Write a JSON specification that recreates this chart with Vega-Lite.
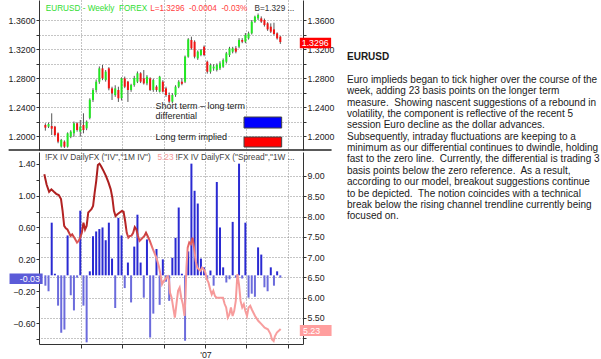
{
"$schema": "https://vega.github.io/schema/vega-lite/v6.json",
"background": "white",
"padding": {"left": 7, "top": 0, "right": 0, "bottom": 0},
"spacing": 13,
"config": {
  "view": {"stroke": null},
  "font": "Liberation Sans",
  "axis": {"labelFont": "Liberation Sans", "labelFontSize": 8.8, "labelColor": "#222", "tickColor": "#333", "domainColor": "#333", "tickSize": 3, "labelPadding": 1, "gridColor": "#8a8a8a", "gridDash": [1, 2], "gridWidth": 1, "labelOverlap": false, "labelBound": false, "labelFlush": false}
},
"datasets": {
  "candles": [
    {"day":3,"o":1.2152,"h":1.2175,"l":1.2074,"c":1.2115},
    {"day":10,"o":1.2129,"h":1.2185,"l":1.2110,"c":1.2165},
    {"day":17,"o":1.2138,"h":1.2313,"l":1.2014,"c":1.2101},
    {"day":24,"o":1.2129,"h":1.2140,"l":1.2000,"c":1.2014},
    {"day":31,"o":1.2037,"h":1.2050,"l":1.1900,"c":1.1922},
    {"day":38,"o":1.1855,"h":1.1960,"l":1.1840,"c":1.1945},
    {"day":45,"o":1.1922,"h":1.1940,"l":1.1835,"c":1.1853},
    {"day":52,"o":1.1853,"h":1.2050,"l":1.1840,"c":1.2037},
    {"day":59,"o":1.1990,"h":1.2080,"l":1.1970,"c":1.2060},
    {"day":66,"o":1.2037,"h":1.2200,"l":1.1990,"c":1.2175},
    {"day":73,"o":1.2175,"h":1.2190,"l":1.2060,"c":1.2083},
    {"day":80,"o":1.2060,"h":1.2221,"l":1.1991,"c":1.2129},
    {"day":87,"o":1.2152,"h":1.2313,"l":1.2037,"c":1.2083},
    {"day":94,"o":1.2106,"h":1.2215,"l":1.2080,"c":1.2198},
    {"day":101,"o":1.2250,"h":1.2520,"l":1.2230,"c":1.2500},
    {"day":108,"o":1.2497,"h":1.2660,"l":1.2470,"c":1.2635},
    {"day":115,"o":1.2635,"h":1.2780,"l":1.2600,"c":1.2749},
    {"day":122,"o":1.2749,"h":1.2960,"l":1.2720,"c":1.2933},
    {"day":129,"o":1.2933,"h":1.2980,"l":1.2770,"c":1.2795},
    {"day":136,"o":1.2772,"h":1.2910,"l":1.2750,"c":1.2887},
    {"day":143,"o":1.2933,"h":1.2950,"l":1.2630,"c":1.2657},
    {"day":150,"o":1.2657,"h":1.2680,"l":1.2497,"c":1.2588},
    {"day":157,"o":1.2565,"h":1.2700,"l":1.2540,"c":1.2657},
    {"day":164,"o":1.2635,"h":1.2680,"l":1.2470,"c":1.2520},
    {"day":171,"o":1.2520,"h":1.2810,"l":1.2490,"c":1.2795},
    {"day":178,"o":1.2795,"h":1.2820,"l":1.2660,"c":1.2680},
    {"day":185,"o":1.2750,"h":1.2760,"l":1.2470,"c":1.2635},
    {"day":192,"o":1.2635,"h":1.2720,"l":1.2610,"c":1.2703},
    {"day":199,"o":1.2703,"h":1.2830,"l":1.2680,"c":1.2800},
    {"day":206,"o":1.2750,"h":1.2890,"l":1.2730,"c":1.2865},
    {"day":213,"o":1.2865,"h":1.2880,"l":1.2730,"c":1.2750},
    {"day":220,"o":1.2795,"h":1.2910,"l":1.2710,"c":1.2726},
    {"day":227,"o":1.2726,"h":1.2840,"l":1.2700,"c":1.2818},
    {"day":234,"o":1.2795,"h":1.2810,"l":1.2620,"c":1.2635},
    {"day":241,"o":1.2635,"h":1.2790,"l":1.2610,"c":1.2772},
    {"day":248,"o":1.2680,"h":1.2700,"l":1.2610,"c":1.2635},
    {"day":255,"o":1.2612,"h":1.2830,"l":1.2600,"c":1.2818},
    {"day":262,"o":1.2749,"h":1.2770,"l":1.2600,"c":1.2612},
    {"day":269,"o":1.2657,"h":1.2680,"l":1.2540,"c":1.2566},
    {"day":276,"o":1.2566,"h":1.2600,"l":1.2450,"c":1.2474},
    {"day":283,"o":1.2474,"h":1.2590,"l":1.2450,"c":1.2566},
    {"day":290,"o":1.2566,"h":1.2700,"l":1.2540,"c":1.2680},
    {"day":297,"o":1.2680,"h":1.2770,"l":1.2660,"c":1.2749},
    {"day":304,"o":1.2749,"h":1.2800,"l":1.2700,"c":1.2720},
    {"day":311,"o":1.2749,"h":1.3110,"l":1.2730,"c":1.3094},
    {"day":318,"o":1.3094,"h":1.3350,"l":1.3080,"c":1.3333},
    {"day":325,"o":1.3324,"h":1.3370,"l":1.3190,"c":1.3209},
    {"day":332,"o":1.3300,"h":1.3320,"l":1.3070,"c":1.3094},
    {"day":339,"o":1.3071,"h":1.3180,"l":1.3050,"c":1.3163},
    {"day":346,"o":1.3117,"h":1.3200,"l":1.3100,"c":1.3186},
    {"day":353,"o":1.3232,"h":1.3250,"l":1.3100,"c":1.3117},
    {"day":360,"o":1.3025,"h":1.3040,"l":1.2860,"c":1.2887},
    {"day":367,"o":1.2887,"h":1.3000,"l":1.2860,"c":1.2979},
    {"day":374,"o":1.2933,"h":1.2990,"l":1.2900,"c":1.2956},
    {"day":381,"o":1.2910,"h":1.3000,"l":1.2890,"c":1.2979},
    {"day":388,"o":1.2933,"h":1.3030,"l":1.2910,"c":1.3002},
    {"day":395,"o":1.2956,"h":1.3070,"l":1.2940,"c":1.3048},
    {"day":402,"o":1.3025,"h":1.3160,"l":1.3000,"c":1.3140},
    {"day":409,"o":1.3117,"h":1.3230,"l":1.3090,"c":1.3209},
    {"day":416,"o":1.3163,"h":1.3230,"l":1.3140,"c":1.3209},
    {"day":423,"o":1.3209,"h":1.3240,"l":1.3140,"c":1.3163},
    {"day":430,"o":1.3232,"h":1.3350,"l":1.3210,"c":1.3324},
    {"day":437,"o":1.3324,"h":1.3350,"l":1.3280,"c":1.3301},
    {"day":444,"o":1.3301,"h":1.3420,"l":1.3280,"c":1.3393},
    {"day":451,"o":1.3347,"h":1.3440,"l":1.3330,"c":1.3416},
    {"day":458,"o":1.3416,"h":1.3600,"l":1.3400,"c":1.3577},
    {"day":465,"o":1.3577,"h":1.3660,"l":1.3560,"c":1.3646},
    {"day":472,"o":1.3623,"h":1.3690,"l":1.3600,"c":1.3669},
    {"day":479,"o":1.3623,"h":1.3650,"l":1.3560,"c":1.3577},
    {"day":486,"o":1.3600,"h":1.3620,"l":1.3510,"c":1.3531},
    {"day":493,"o":1.3554,"h":1.3570,"l":1.3450,"c":1.3471},
    {"day":500,"o":1.3508,"h":1.3554,"l":1.3420,"c":1.3439},
    {"day":507,"o":1.3471,"h":1.3563,"l":1.3390,"c":1.3407},
    {"day":514,"o":1.3416,"h":1.3430,"l":1.3330,"c":1.3347},
    {"day":521,"o":1.3370,"h":1.3380,"l":1.3270,"c":1.3296}
  ],
  "diff": [
    {"day":3,"v":-0.13},{"day":10,"v":-0.20},{"day":17,"v":0.66},{"day":24,"v":0.02},{"day":31,"v":-0.38},
    {"day":38,"v":-0.72},{"day":45,"v":-0.68},{"day":52,"v":0.50},{"day":59,"v":-0.25},{"day":66,"v":-0.44},
    {"day":73,"v":-0.03},{"day":80,"v":0.81},{"day":87,"v":-0.38},{"day":94,"v":-0.84},{"day":101,"v":0.05},
    {"day":108,"v":0.49},{"day":115,"v":0.55},{"day":122,"v":0.58},{"day":129,"v":0.60},{"day":136,"v":0.44},
    {"day":143,"v":0.66},{"day":150,"v":0.21},{"day":157,"v":-0.41},{"day":164,"v":0.72},{"day":171,"v":0.50},
    {"day":178,"v":-0.16},{"day":185,"v":0.16},{"day":192,"v":-0.34},{"day":199,"v":0.36},{"day":206,"v":0.76},
    {"day":213,"v":0.16},{"day":220,"v":-0.28},{"day":227,"v":0.45},{"day":234,"v":-0.78},{"day":241,"v":-0.48},
    {"day":248,"v":0.33},{"day":255,"v":-0.37},{"day":262,"v":0.20},{"day":269,"v":-0.08},{"day":276,"v":-0.32},
    {"day":283,"v":0.22},{"day":290,"v":0.47},{"day":297,"v":0.85},{"day":304,"v":0.02},{"day":311,"v":-0.82},
    {"day":318,"v":0.30},{"day":325,"v":1.40},{"day":332,"v":1.06},{"day":339,"v":0.90},{"day":346,"v":0.21},
    {"day":353,"v":0.10},{"day":360,"v":-0.05},{"day":367,"v":0.06},{"day":374,"v":-0.13},{"day":381,"v":1.17},
    {"day":388,"v":0.60},{"day":395,"v":0.10},{"day":402,"v":-0.09},{"day":409,"v":-0.05},{"day":416,"v":0.67},
    {"day":423,"v":-0.03},{"day":430,"v":1.40},{"day":437,"v":-0.04},{"day":444,"v":0.66},{"day":451,"v":-0.28},
    {"day":458,"v":-0.23},{"day":465,"v":-0.27},{"day":472,"v":0.35},{"day":479,"v":0.26},{"day":486,"v":-0.15},
    {"day":493,"v":-0.20},{"day":500,"v":0.10},{"day":507,"v":-0.13},{"day":514,"v":0.05},{"day":521,"v":-0.03}
  ],
  "vol": [
    {"day":0.7,"v":9.04},{"day":5.7,"v":8.79},{"day":11.3,"v":8.61},{"day":16.3,"v":8.67},{"day":21.9,"v":8.61},
    {"day":26.9,"v":8.56},{"day":32.5,"v":8.53},{"day":37.5,"v":8.43},{"day":41,"v":8.14},{"day":44.5,"v":7.77},
    {"day":48.1,"v":7.71},{"day":51.6,"v":7.68},{"day":55.2,"v":7.60},{"day":58.7,"v":7.52},{"day":62.2,"v":7.56},
    {"day":67.9,"v":7.46},{"day":72.8,"v":7.36},{"day":76.4,"v":7.40},{"day":79.9,"v":7.48},{"day":83.4,"v":7.60},
    {"day":87,"v":7.85},{"day":90.5,"v":7.68},{"day":94,"v":7.77},{"day":97.6,"v":8.10},{"day":101.1,"v":8.14},
    {"day":104.6,"v":8.18},{"day":108.2,"v":8.26},{"day":111.7,"v":8.59},{"day":115.2,"v":8.88},{"day":118.8,"v":9.27},
    {"day":122.3,"v":9.30},{"day":125.9,"v":9.24},{"day":131.5,"v":9.12},{"day":136.5,"v":9.00},{"day":142.1,"v":8.84},
    {"day":147.1,"v":8.67},{"day":150.6,"v":8.47},{"day":154.2,"v":8.14},{"day":157.7,"v":8.01},{"day":161.2,"v":8.05},
    {"day":166.9,"v":8.10},{"day":171.8,"v":8.14},{"day":175.4,"v":8.12},{"day":178.9,"v":7.89},{"day":182.4,"v":7.60},
    {"day":186,"v":7.48},{"day":189.5,"v":7.52},{"day":193,"v":7.53},{"day":196.6,"v":7.60},{"day":200.1,"v":7.74},
    {"day":203.6,"v":7.68},{"day":207.2,"v":7.52},{"day":210.7,"v":7.40},{"day":214.3,"v":7.44},{"day":217.8,"v":7.48},
    {"day":221.3,"v":7.52},{"day":224.9,"v":7.60},{"day":228.4,"v":7.52},{"day":233.3,"v":7.40},{"day":239,"v":7.23},
    {"day":244.7,"v":7.07},{"day":248.2,"v":6.97},{"day":253.1,"v":6.78},{"day":256.7,"v":6.58},{"day":260.2,"v":6.33},
    {"day":263.7,"v":6.41},{"day":267.3,"v":6.45},{"day":270.8,"v":6.51},{"day":272.9,"v":6.53},{"day":275.8,"v":6.41},
    {"day":277.9,"v":6.12},{"day":281.4,"v":6.00},{"day":285,"v":5.75},{"day":288.5,"v":5.51},{"day":292,"v":5.84},
    {"day":295.6,"v":6.17},{"day":299.1,"v":6.25},{"day":302.6,"v":6.00},{"day":306.2,"v":5.84},{"day":309.7,"v":5.55},
    {"day":311.8,"v":6.00},{"day":314,"v":6.74},{"day":316.8,"v":7.23},{"day":320.3,"v":7.36},{"day":323.9,"v":7.32},
    {"day":327.4,"v":7.48},{"day":330.9,"v":7.23},{"day":334.5,"v":6.90},{"day":338,"v":6.74},{"day":341.5,"v":6.70},
    {"day":345.1,"v":6.66},{"day":348.6,"v":6.74},{"day":352.1,"v":6.70},{"day":355.7,"v":6.62},{"day":359.2,"v":6.45},
    {"day":362.7,"v":6.37},{"day":366.3,"v":6.21},{"day":369.8,"v":6.08},{"day":373.3,"v":6.17},{"day":376.9,"v":6.04},
    {"day":380.4,"v":6.00},{"day":387.5,"v":6.00},{"day":394.6,"v":6.00},{"day":398.1,"v":5.85},{"day":401.6,"v":5.76},
    {"day":405.2,"v":5.51},{"day":408.7,"v":5.59},{"day":412.2,"v":5.76},{"day":415.8,"v":5.55},{"day":419.3,"v":5.67},
    {"day":422.8,"v":5.92},{"day":426.4,"v":6.58},{"day":429.9,"v":6.33},{"day":433.4,"v":5.92},{"day":437,"v":5.76},
    {"day":440.5,"v":5.84},{"day":444,"v":5.67},{"day":447.6,"v":5.55},{"day":451.1,"v":5.76},{"day":454.7,"v":5.80},
    {"day":458.2,"v":5.71},{"day":465.3,"v":5.55},{"day":472.3,"v":5.43},{"day":479.4,"v":5.35},{"day":486.5,"v":5.26},
    {"day":493.6,"v":5.22},{"day":499.2,"v":5.11},{"day":502.7,"v":4.97},{"day":506.3,"v":4.93},{"day":509.1,"v":5.05},
    {"day":513.4,"v":5.14},{"day":518.3,"v":5.19},{"day":521.8,"v":5.23}
  ],
  "para": [
    {"row":0,"text":"EURUSD"},
    {"row":2,"text":"Euro implieds began to tick higher over the course of the"},
    {"row":3,"text":"week, adding 23 basis points on the longer term"},
    {"row":4,"text":"measure.\u00a0 Showing nascent suggestions of a rebound in"},
    {"row":5,"text":"volatility, the component is reflective of the recent 5"},
    {"row":6,"text":"session Euro decline as the dollar advances."},
    {"row":7,"text":"Subsequently, intraday fluctuations are keeping to a"},
    {"row":8,"text":"minimum as our differential continues to dwindle, holding"},
    {"row":9,"text":"fast to the zero line.\u00a0 Currently, the differential is trading 3"},
    {"row":10,"text":"basis points below the zero reference.\u00a0 As a result,"},
    {"row":11,"text":"according to our model, breakout suggestions continue"},
    {"row":12,"text":"to be depicted.\u00a0 The notion coincides with a technical"},
    {"row":13,"text":"break below the rising channel trendline currently being"},
    {"row":14,"text":"focused on."}
  ]
},
"hconcat": [
  {
    "spacing": 1,
    "vconcat": [
      {
        "width": 264, "height": 150,
        "resolve": {"axis": {"y": "independent"}},
        "layer": [
          {
            "data": {"name": "candles"},
            "mark": {"type": "rule", "color": "#555", "strokeWidth": 1},
            "encoding": {
              "x": {"field": "day", "type": "quantitative", "scale": {"domain": [0, 560], "nice": false, "zero": false}, "axis": {"values": [81,172,264,356,446,537], "labels": false, "ticks": false, "domain": false, "grid": true, "title": null}},
              "y": {"field": "l", "type": "quantitative", "scale": {"domain": [1.1807, 1.3876], "nice": false, "zero": false}, "axis": {"orient": "left", "values": [1.18,1.2,1.22,1.24,1.26,1.28,1.3,1.32,1.34,1.36], "labelExpr": "round(datum.value*100) % 4 == 0 ? format(datum.value, '.4f') : ''", "grid": true, "title": null}},
              "y2": {"field": "h"}
            }
          },
          {
            "data": {"name": "candles"},
            "mark": {"type": "bar", "width": 2},
            "encoding": {
              "x": {"field": "day", "type": "quantitative", "scale": {"domain": [0, 560], "nice": false, "zero": false}},
              "y": {"field": "o", "type": "quantitative", "scale": {"domain": [1.1807, 1.3876], "nice": false, "zero": false}, "axis": {"orient": "right", "values": [1.18,1.2,1.22,1.24,1.26,1.28,1.3,1.32,1.34,1.36], "labelExpr": "round(datum.value*100) % 4 == 0 ? format(datum.value, '.4f') : ''", "grid": false, "title": null}},
              "y2": {"field": "c"},
              "color": {"condition": {"test": "datum.c >= datum.o", "value": "#22e822"}, "value": "#f01414"}
            }
          },
          {
            "data": {"values": [
              {"seg": "name", "day": 4, "val": 1.3748, "text": "EURUSD - Weekly\u00a0 FOREX"},
              {"seg": "quote", "day": 234, "val": 1.3748, "text": "L=1.3296\u00a0 -0.0004\u00a0 -0.03%"},
              {"seg": "bid", "day": 464, "val": 1.3748, "text": "B=1.329 ..."}
            ]},
            "mark": {"type": "text", "align": "left", "baseline": "middle", "fontSize": 8.2},
            "encoding": {
              "x": {"field": "day", "type": "quantitative", "scale": {"domain": [0, 560], "nice": false, "zero": false}},
              "y": {"field": "val", "type": "quantitative", "scale": {"domain": [1.1807, 1.3876], "nice": false, "zero": false}, "axis": null},
              "text": {"field": "text"},
              "color": {"condition": [{"test": "datum.seg == 'name'", "value": "#33dd33"}, {"test": "datum.seg == 'quote'", "value": "#ff4040"}], "value": "#333333"}
            }
          },
          {
            "data": {"values": [
              {"day": 246, "val": 1.2414, "text": "Short term \u2013 long term"},
              {"day": 246, "val": 1.2276, "text": "differential"},
              {"day": 246, "val": 1.1993, "text": "Long term implied"}
            ]},
            "mark": {"type": "text", "align": "left", "baseline": "middle", "fontSize": 9, "color": "#222"},
            "encoding": {
              "x": {"field": "day", "type": "quantitative", "scale": {"domain": [0, 560], "nice": false, "zero": false}},
              "y": {"field": "val", "type": "quantitative", "scale": {"domain": [1.1807, 1.3876], "nice": false, "zero": false}, "axis": null},
              "text": {"field": "text"}
            }
          },
          {
            "data": {"values": [
              {"key": "short", "x1": 441, "x2": 524, "y1": 1.2262, "y2": 1.2110},
              {"key": "long", "x1": 441, "x2": 524, "y1": 1.1986, "y2": 1.1848}
            ]},
            "mark": {"type": "rect", "stroke": "#444", "strokeWidth": 1},
            "encoding": {
              "x": {"field": "x1", "type": "quantitative", "scale": {"domain": [0, 560], "nice": false, "zero": false}},
              "x2": {"field": "x2"},
              "y": {"field": "y1", "type": "quantitative", "scale": {"domain": [1.1807, 1.3876], "nice": false, "zero": false}, "axis": null},
              "y2": {"field": "y2"},
              "color": {"condition": {"test": "datum.key == 'short'", "value": "#0000ff"}, "value": "#ff0000"}
            }
          },
          {
            "data": {"values": [{"x1": 564, "x2": 633, "y1": 1.3356, "y2": 1.3210}]},
            "mark": {"type": "rect", "color": "#ff0000"},
            "encoding": {
              "x": {"field": "x1", "type": "quantitative", "scale": {"domain": [0, 560], "nice": false, "zero": false}},
              "x2": {"field": "x2"},
              "y": {"field": "y1", "type": "quantitative", "scale": {"domain": [1.1807, 1.3876], "nice": false, "zero": false}, "axis": null},
              "y2": {"field": "y2"}
            }
          },
          {
            "data": {"values": [{"day": 598, "val": 1.3283, "text": "1.3296"}]},
            "mark": {"type": "text", "align": "center", "baseline": "middle", "fontSize": 8.8, "color": "white"},
            "encoding": {
              "x": {"field": "day", "type": "quantitative", "scale": {"domain": [0, 560], "nice": false, "zero": false}},
              "y": {"field": "val", "type": "quantitative", "scale": {"domain": [1.1807, 1.3876], "nice": false, "zero": false}, "axis": null},
              "text": {"field": "text"}
            }
          },
          {
            "data": {"values": [{"a": -78, "b": 634, "y": 1.1807}]},
            "mark": {"type": "rule", "color": "#222", "strokeWidth": 1.5},
            "encoding": {
              "x": {"field": "a", "type": "quantitative", "scale": {"domain": [0, 560], "nice": false, "zero": false}},
              "x2": {"field": "b"},
              "y": {"field": "y", "type": "quantitative", "scale": {"domain": [1.1807, 1.3876], "nice": false, "zero": false}, "axis": null}
            }
          }
        ]
      },
      {
        "width": 264, "height": 192,
        "resolve": {"scale": {"y": "independent"}, "axis": {"y": "independent"}},
        "layer": [
          {
            "data": {"name": "diff"},
            "mark": {"type": "bar", "width": 2},
            "encoding": {
              "x": {"field": "day", "type": "quantitative", "scale": {"domain": [0, 560], "nice": false, "zero": false}, "axis": {"values": [81,172,264,356,446,537], "labelExpr": "datum.value == 356 ? \"'07\" : ''", "grid": true, "tickSize": 4, "labelPadding": 2, "title": null}},
              "y": {"field": "v", "type": "quantitative", "scale": {"domain": [-0.861, 1.546], "nice": false, "zero": false}, "axis": {"orient": "left", "values": [-0.8,-0.6,-0.4,-0.2,0,0.2,0.4,0.6,0.8,1,1.2,1.4], "labelExpr": "abs(round(datum.value*10)) % 4 == 2 ? format(datum.value, '.2f') : ''", "grid": false, "title": null}},
              "color": {"condition": {"test": "datum.v >= 0", "value": "#2a2ad2"}, "value": "#6b6bdc"}
            }
          },
          {
            "data": {"name": "vol"},
            "mark": {"type": "line", "strokeWidth": 2, "color": {"gradient": "linear", "x1": 0, "y1": 0, "x2": 0, "y2": 1, "stops": [{"offset": 0, "color": "#a81c1c"}, {"offset": 0.36, "color": "#b82626"}, {"offset": 0.45, "color": "#e46262"}, {"offset": 0.52, "color": "#f59494"}, {"offset": 1, "color": "#f8a0a0"}]}},
            "encoding": {
              "x": {"field": "day", "type": "quantitative", "scale": {"domain": [0, 560], "nice": false, "zero": false}},
              "y": {"field": "v", "type": "quantitative", "scale": {"domain": [4.859, 9.59], "nice": false, "zero": false}, "axis": {"orient": "right", "values": [5,5.5,6,6.5,7,7.5,8,8.5,9], "labelExpr": "datum.value >= 5.5 ? format(datum.value, '.2f') : ''", "grid": true, "title": null}}
            }
          },
          {
            "data": {"values": [{"x1": -76, "x2": -3, "y1": 0.0226, "y2": -0.109}]},
            "mark": {"type": "rect", "color": "#5b5bd8"},
            "encoding": {
              "x": {"field": "x1", "type": "quantitative", "scale": {"domain": [0, 560], "nice": false, "zero": false}},
              "x2": {"field": "x2"},
              "y": {"field": "y1", "type": "quantitative", "scale": {"domain": [-0.861, 1.546], "nice": false, "zero": false}, "axis": null},
              "y2": {"field": "y2"}
            }
          },
          {
            "data": {"values": [{"day": -9, "val": -0.043, "text": "-0.03"}]},
            "mark": {"type": "text", "align": "right", "baseline": "middle", "fontSize": 8.8, "color": "white"},
            "encoding": {
              "x": {"field": "day", "type": "quantitative", "scale": {"domain": [0, 560], "nice": false, "zero": false}},
              "y": {"field": "val", "type": "quantitative", "scale": {"domain": [-0.861, 1.546], "nice": false, "zero": false}, "axis": null},
              "text": {"field": "text"}
            }
          },
          {
            "data": {"values": [
              {"seg": "iv", "day": 2, "val": 1.467, "text": "!FX IV DailyFX (\"IV\",\"1M IV\")"},
              {"seg": "num", "day": 250, "val": 1.467, "text": "5.23"},
              {"seg": "sp", "day": 290, "val": 1.467, "text": "!FX IV DailyFX (\"Spread\",\"1W ..."}
            ]},
            "mark": {"type": "text", "align": "left", "baseline": "middle", "fontSize": 8.3},
            "encoding": {
              "x": {"field": "day", "type": "quantitative", "scale": {"domain": [0, 560], "nice": false, "zero": false}},
              "y": {"field": "val", "type": "quantitative", "scale": {"domain": [-0.861, 1.546], "nice": false, "zero": false}, "axis": null},
              "text": {"field": "text"},
              "color": {"condition": {"test": "datum.seg == 'num'", "value": "#f59a9a"}, "value": "#444444"}
            }
          },
          {
            "data": {"values": [{"x1": 564, "x2": 634, "y1": 5.327, "y2": 5.056}]},
            "mark": {"type": "rect", "color": "#ff9e9e"},
            "encoding": {
              "x": {"field": "x1", "type": "quantitative", "scale": {"domain": [0, 560], "nice": false, "zero": false}},
              "x2": {"field": "x2"},
              "y": {"field": "y1", "type": "quantitative", "scale": {"domain": [4.859, 9.59], "nice": false, "zero": false}, "axis": null},
              "y2": {"field": "y2"}
            }
          },
          {
            "data": {"values": [{"day": 571, "val": 5.19, "text": "5.23"}]},
            "mark": {"type": "text", "align": "left", "baseline": "middle", "fontSize": 8.8, "color": "white"},
            "encoding": {
              "x": {"field": "day", "type": "quantitative", "scale": {"domain": [0, 560], "nice": false, "zero": false}},
              "y": {"field": "val", "type": "quantitative", "scale": {"domain": [4.859, 9.59], "nice": false, "zero": false}, "axis": null},
              "text": {"field": "text"}
            }
          }
        ]
      }
    ]
  },
  {
    "width": 250, "height": 343,
    "data": {"name": "para"},
    "layer": [
      {
        "transform": [{"filter": "datum.row == 0"}],
        "mark": {"type": "text", "align": "left", "baseline": "middle", "fontSize": 10, "fontWeight": "bold", "color": "#1a1a1a"},
        "encoding": {
          "x": {"datum": 0, "type": "quantitative", "scale": {"domain": [0, 1]}, "axis": null},
          "y": {"field": "row", "type": "quantitative", "scale": {"domain": [-5.05, 25.17], "reverse": true, "nice": false, "zero": false}, "axis": null},
          "text": {"field": "text"}
        }
      },
      {
        "transform": [{"filter": "datum.row > 0"}],
        "mark": {"type": "text", "align": "left", "baseline": "middle", "fontSize": 10, "color": "#1a1a1a"},
        "encoding": {
          "x": {"datum": 0, "type": "quantitative", "scale": {"domain": [0, 1]}, "axis": null},
          "y": {"field": "row", "type": "quantitative", "scale": {"domain": [-5.05, 25.17], "reverse": true, "nice": false, "zero": false}, "axis": null},
          "text": {"field": "text"}
        }
      }
    ]
  }
]
}
